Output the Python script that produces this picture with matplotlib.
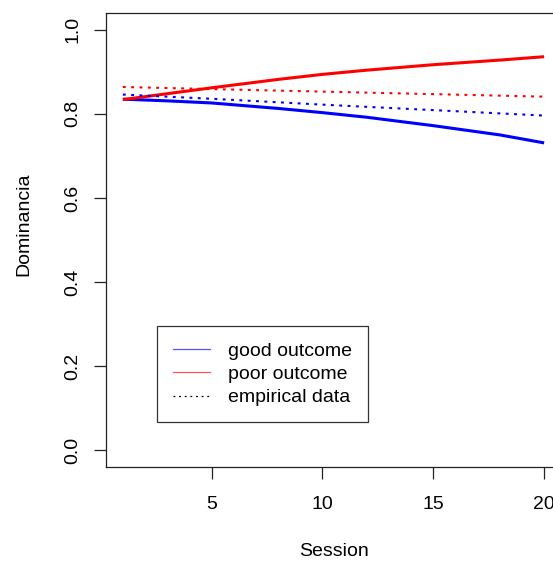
import matplotlib
matplotlib.use("Agg")
import matplotlib.pyplot as plt
from matplotlib.lines import Line2D

plt.rcParams['font.family'] = ['Liberation Sans', 'DejaVu Sans']

# model curves (sessions)
model_sessions = [1, 3, 5, 8, 10, 12, 15, 18, 20]
good_model = [0.835, 0.831, 0.826, 0.813, 0.803, 0.792, 0.772, 0.750, 0.731]
poor_model = [0.834, 0.848, 0.862, 0.882, 0.894, 0.904, 0.917, 0.928, 0.936]

# empirical data
emp_sessions = [1, 5, 10, 15, 20]
good_emp = [0.846, 0.836, 0.822, 0.809, 0.796]
poor_emp = [0.864, 0.859, 0.853, 0.847, 0.841]

xticks = [5, 10, 15, 20]
yticks = [0.0, 0.2, 0.4, 0.6, 0.8, 1.0]
ytick_labels = ["0.0", "0.2", "0.4", "0.6", "0.8", "1.0"]
legend_labels = ["good outcome", "poor outcome", "empirical data"]

W, H = 553, 561
fig = plt.figure(figsize=(W / 100, H / 100), dpi=100)
left, right, top, bottom = 106, 561, 13, 467
ax = fig.add_axes([left / W, (H - bottom) / H, (right - left) / W, (bottom - top) / H])

ax.plot(model_sessions, good_model, color='#0000FF', lw=2.2, solid_capstyle='butt')
ax.plot(model_sessions, poor_model, color='#FF0000', lw=2.2, solid_capstyle='butt')
ax.plot(emp_sessions, good_emp, color='#0000FF', lw=1.5, dashes=(1.4, 2.6))
ax.plot(emp_sessions, poor_emp, color='#FF0000', lw=1.5, dashes=(1.4, 2.6))

ax.set_xlim(0.24, 20.76)
ax.set_ylim(-0.04, 1.04)
ax.set_xticks(xticks)
ax.set_xticklabels([str(t) for t in xticks])
ax.set_yticks(yticks)
ax.set_yticklabels(ytick_labels, rotation=90, va='center')

for s in ax.spines.values():
    s.set_linewidth(0.9)
    s.set_color('#222222')
ax.tick_params(axis='both', length=8.6, width=0.9, color='#222222', labelsize=14)
ax.tick_params(axis='x', pad=12)
ax.tick_params(axis='y', pad=9)

ax.set_xlabel("Session", fontsize=14)
ax.set_ylabel("Dominancia", fontsize=14)
ax.xaxis.set_label_coords(0.5, (bottom - 551) / (bottom - top))
ax.xaxis.label.set_va('center')
ax.yaxis.set_label_coords((24 - left) / (right - left), (bottom - 224) / (bottom - top))
ax.yaxis.label.set_va('center')

handles = [
    Line2D([], [], color='#5050FF', lw=0.9),
    Line2D([], [], color='#FF5050', lw=0.9),
    Line2D([], [], color='black', lw=0.9, dashes=(1.5, 3.0)),
]
leg = ax.legend(handles, legend_labels, loc='upper left',
                bbox_to_anchor=((157 - left) / (right - left), (bottom - 326) / (bottom - top)),
                borderaxespad=0, fontsize=14, frameon=True, fancybox=False,
                handlelength=1.9, handletextpad=0.95, borderpad=0.82,
                labelspacing=0.30)
leg.get_frame().set_edgecolor('black')
leg.get_frame().set_linewidth(0.9)

fig.savefig("out.png", dpi=100)
